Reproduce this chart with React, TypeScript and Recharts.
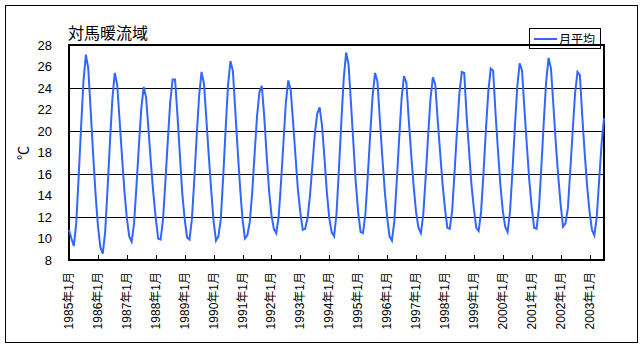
import { LineChart, Line, XAxis, YAxis, CartesianGrid, ReferenceArea } from 'recharts'

// 月平均水温（℃） 1985年1月〜2003年7月
const years = [1985, 1986, 1987, 1988, 1989, 1990, 1991, 1992, 1993, 1994,
  1995, 1996, 1997, 1998, 1999, 2000, 2001, 2002, 2003]

const temps: number[][] = [
  [10.8, 10.0, 9.3, 11.4, 15.7, 20.3, 24.6, 27.1, 25.8, 21.9, 17.9, 14.2],
  [11.2, 9.2, 8.6, 10.6, 14.6, 19.0, 23.0, 25.4, 24.3, 21.0, 17.6, 14.4],
  [11.9, 10.2, 9.7, 11.4, 14.9, 18.6, 22.1, 24.1, 23.1, 20.1, 17.0, 14.2],
  [11.9, 10.0, 9.9, 11.7, 15.3, 19.1, 22.7, 24.8, 24.8, 21.5, 17.8, 14.2],
  [11.8, 10.1, 9.9, 11.8, 15.5, 19.6, 23.3, 25.5, 24.4, 21.1, 17.7, 14.5],
  [11.6, 9.8, 10.2, 11.8, 15.8, 20.2, 24.3, 26.5, 25.6, 21.9, 18.2, 14.7],
  [11.8, 10.0, 10.3, 11.5, 14.2, 17.8, 21.3, 23.6, 24.2, 21.4, 17.8, 14.5],
  [12.2, 10.9, 10.5, 12.0, 15.3, 19.0, 22.7, 24.7, 23.8, 20.8, 17.6, 14.5],
  [12.4, 10.8, 10.9, 11.9, 14.0, 16.8, 19.7, 21.6, 22.2, 20.5, 17.5, 14.3],
  [11.9, 10.6, 10.2, 12.3, 16.4, 20.8, 24.9, 27.3, 26.2, 22.6, 18.9, 15.2],
  [12.4, 10.6, 10.5, 12.3, 15.9, 19.7, 23.3, 25.4, 24.6, 21.0, 17.6, 14.5],
  [12.0, 10.2, 9.8, 11.6, 15.3, 19.3, 23.0, 25.1, 24.5, 21.0, 17.8, 14.9],
  [12.5, 11.0, 10.5, 12.2, 15.7, 19.5, 23.0, 25.0, 24.3, 21.0, 18.0, 15.1],
  [12.8, 11.0, 10.9, 12.6, 16.2, 20.0, 23.5, 25.5, 25.4, 21.4, 18.2, 15.0],
  [12.8, 11.0, 10.7, 12.5, 16.1, 20.1, 23.7, 25.8, 25.6, 21.6, 18.2, 15.0],
  [12.6, 11.1, 10.6, 12.5, 16.2, 20.3, 24.1, 26.3, 25.6, 22.0, 18.6, 15.4],
  [12.9, 11.0, 10.9, 12.8, 16.6, 20.8, 24.6, 26.8, 25.8, 22.4, 18.9, 15.8],
  [13.2, 11.1, 11.4, 12.8, 16.3, 20.0, 23.5, 25.5, 25.2, 21.3, 17.9, 14.9],
  [12.5, 10.8, 10.3, 12.0, 15.5, 18.8, 21.2],
]

const yTicks = [8, 10, 12, 14, 16, 18, 20, 22, 24, 26, 28]

const data = years.flatMap((y, i) =>
  temps[i].map((v, m) => ({ month: `${y}年${m + 1}月`, value: v }))
)

const font = '"Liberation Sans", Arial, "Noto Sans CJK JP", sans-serif'
const cjk = '"Noto Sans CJK JP", sans-serif'

function MonthTick(props: any) {
  const { x, y, payload } = props
  const tx = Math.round(x) + 0.5
  return (
    <g>
      <line x1={tx} y1={y} x2={tx} y2={y - 5} stroke="#000" />
      <text x={x} y={y + 12} transform={`rotate(-90, ${x}, ${y + 12})`}
            textAnchor="end" dominantBaseline="central"
            fontSize={12} fontFamily={font} fill="#000">
        {payload.value}
      </text>
    </g>
  )
}

export default function App() {
  return (
    <div style={{ position: 'absolute', left: 0, top: 0, width: 642, height: 351,
                  background: '#fff', fontFamily: font }}>
      <div style={{ position: 'absolute', left: 5, top: 5, width: 631, height: 336,
                    border: '1px solid #000' }} />
      <div style={{ position: 'absolute', left: 68, top: 20, fontSize: 16, fontFamily: cjk }}>
        対馬暖流域
      </div>
      {/* 凡例 */}
      <div style={{ position: 'absolute', left: 529, top: 28, width: 70, height: 19,
                    border: '1px solid #000', display: 'flex', alignItems: 'center' }}>
        <span style={{ display: 'inline-block', width: 23, height: 2, background: '#3366ff',
                       marginLeft: 4, marginRight: 2 }} />
        <span style={{ fontSize: 12, fontFamily: cjk }}>月平均</span>
      </div>
      <div style={{ position: 'absolute', left: 14, top: 144, width: 18, height: 18,
                    transform: 'rotate(-90deg)', fontSize: 14, lineHeight: '18px',
                    textAlign: 'center' }}>
        ℃
      </div>
      <div style={{ position: 'absolute', left: 0, top: 0 }}>
        <LineChart width={642} height={351} data={data}
                   margin={{ top: 45, right: 38, bottom: 0, left: 9 }}>
          <CartesianGrid vertical={false} stroke="#000" strokeWidth={1}
                         shapeRendering="crispEdges" />
          <XAxis dataKey="month" interval={11} height={91} tickSize={0} tickMargin={0}
                 axisLine={false} tickLine={false} tick={<MonthTick />} />
          <YAxis domain={[8, 28]} ticks={yTicks} width={60} tickSize={0} tickMargin={17}
                 axisLine={false} tickLine={false}
                 tick={{ fill: '#000', fontSize: 13, fontFamily: font }} />
          <Line type="linear" dataKey="value" stroke="#3366ff" strokeWidth={2}
                dot={false} isAnimationActive={false} />
          <ReferenceArea y1={8} y2={28} fill="none" stroke="#000" strokeWidth={2}
                         shapeRendering="crispEdges" ifOverflow="visible" />
        </LineChart>
      </div>
    </div>
  )
}
